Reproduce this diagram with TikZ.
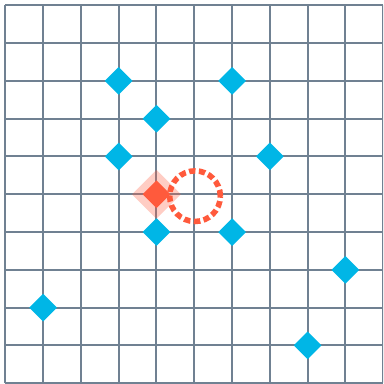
\documentclass[tikz,border=0pt]{standalone}
\usepackage{tikz}
\usetikzlibrary{shapes.geometric}

\definecolor{gridgray}{RGB}{112,129,146}
\definecolor{dotcyan}{RGB}{0,182,230}
\definecolor{hitred}{RGB}{255,90,60}

\begin{document}
\begin{tikzpicture}[
		gridline/.style={gridgray, line width=1.5pt},
		pt/.style={diamond, fill=dotcyan, inner sep=0pt, minimum width=0.74cm, minimum height=0.74cm},
		hit/.style={diamond, fill=hitred, inner sep=0pt, minimum width=0.74cm, minimum height=0.74cm},
		halo/.style={diamond, fill=hitred, fill opacity=0.3, inner sep=0pt, minimum width=1.3cm, minimum height=1.3cm},
		probe/.style={hitred, line width=4.2pt, dash pattern=on 4.8pt off 2.6pt}
	]
			% Frame
			\useasboundingbox (-0.14,0.14) rectangle (10,-10.02);
			\clip (-0.14,0.14) rectangle (10,-10.02);
			\fill[white] (-0.14,0.14) rectangle (10,-10.02);
			
			% Grid
			\draw[gridline] (0,0) grid (10,-10);
			
			% Points
			\node[pt] (p1) at (3,-2) {};
			\node[pt] (p2) at (6,-2) {};
			\node[pt] (p3) at (4,-3) {};
			\node[pt] (p4) at (3,-4) {};
			\node[pt] (p5) at (7,-4) {};
			\node[pt] (p6) at (4,-6) {};
			\node[pt] (p7) at (6,-6) {};
			\node[pt] (p8) at (9,-7) {};
			\node[pt] (p9) at (1,-8) {};
			\node[pt] (p10) at (8,-9) {};
			
			% Nearest point
			\node[halo] (near halo) at (4,-5) {};
			\node[hit] (near) at (4,-5) {};
			
			% Query
			\coordinate (q) at (5.02,-5.05);
			\draw[probe] (q) circle (0.67);
			
		\end{tikzpicture}
\end{document}
